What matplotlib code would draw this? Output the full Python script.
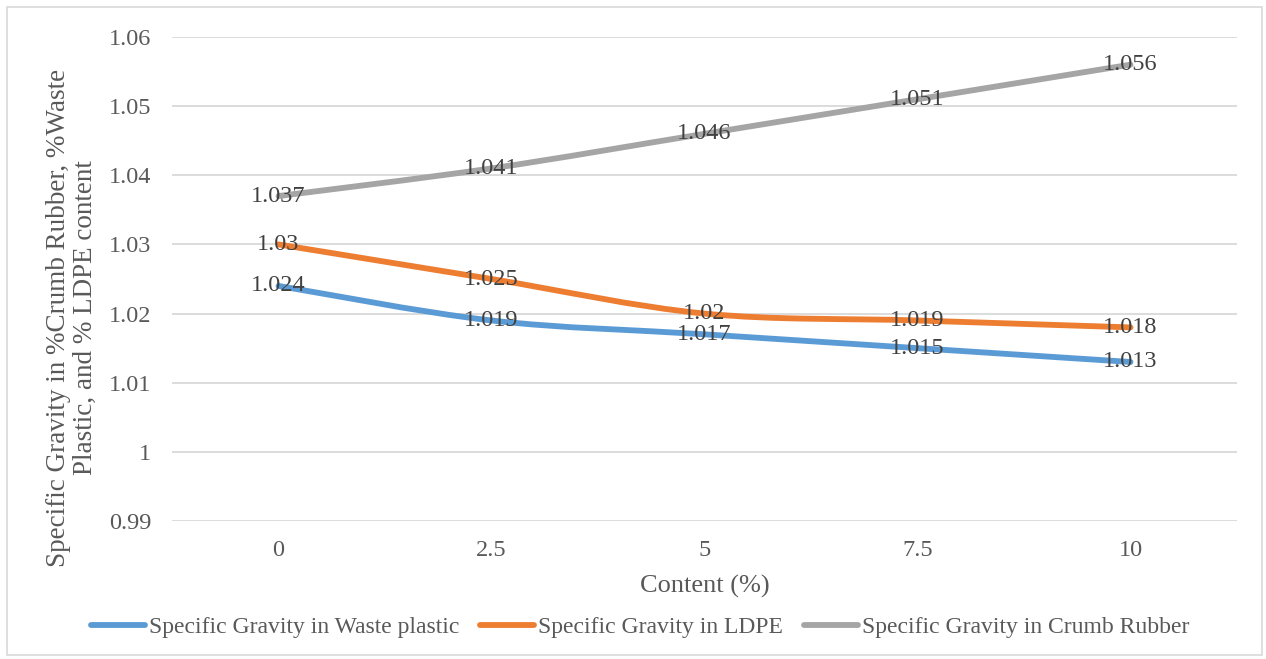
import matplotlib
matplotlib.use("Agg")
import matplotlib.pyplot as plt
from matplotlib.path import Path
from matplotlib.patches import PathPatch, Rectangle
from matplotlib.lines import Line2D
import numpy as np

plt.rcParams['font.family'] = ['Liberation Serif', 'DejaVu Serif']

categories = ["0", "2.5", "5", "7.5", "10"]
waste_plastic = [1.024, 1.019, 1.017, 1.015, 1.013]
ldpe = [1.030, 1.025, 1.020, 1.019, 1.018]
crumb_rubber = [1.037, 1.041, 1.046, 1.051, 1.056]
series_names = ["Specific Gravity in Waste plastic",
                "Specific Gravity in LDPE",
                "Specific Gravity in Crumb Rubber"]
yticks = [0.99, 1.00, 1.01, 1.02, 1.03, 1.04, 1.05, 1.06]
ytick_labels = ["0.99", "1", "1.01", "1.02", "1.03", "1.04", "1.05", "1.06"]
colors = ["#5B9BD5", "#ED7D31", "#A5A5A5"]

W, H = 1266, 659
fig = plt.figure(figsize=(W / 100, H / 100), dpi=100)
ax = fig.add_axes([172 / W, 1 - 521 / H, (1237 - 172) / W, (521 - 37) / H])

x = np.arange(len(categories))


def smooth_path(xs, ys):
    pts = np.column_stack([xs, ys]).astype(float)
    n = len(pts)
    verts = [pts[0]]
    codes = [Path.MOVETO]
    for i in range(n - 1):
        p0 = pts[i - 1] if i > 0 else pts[i]
        p1 = pts[i]
        p2 = pts[i + 1]
        p3 = pts[i + 2] if i + 2 < n else pts[i + 1]
        c1 = p1 + (p2 - p0) / 6.0
        c2 = p2 - (p3 - p1) / 6.0
        verts += [c1, c2, p2]
        codes += [Path.CURVE4] * 3
    return Path(verts, codes)


handles = []
for vals, col, name in zip([waste_plastic, ldpe, crumb_rubber], colors, series_names):
    patch = PathPatch(smooth_path(x, vals), fill=False, edgecolor=col, lw=4.2,
                      capstyle='round', joinstyle='round', zorder=3)
    ax.add_patch(patch)
    for xi, v in zip(x, vals):
        ax.text(xi, v, f"{v:g}", ha='center', va='center', fontsize=17.5,
                color='#404040', zorder=4)
    handles.append(Line2D([], [], color=col, lw=4.2, solid_capstyle='round', label=name))

ax.set_xlim(-0.5, len(categories) - 0.5)
ax.set_ylim(0.99, 1.06)
ax.set_yticks(yticks)
ax.set_yticklabels(ytick_labels)
ax.set_xticks(x)
ax.set_xticklabels(categories)
ax.tick_params(axis='both', length=0, labelsize=17.5, labelcolor='#595959')
ax.tick_params(axis='y', pad=15)
ax.tick_params(axis='x', pad=14)
ax.grid(axis='y', color='#D9D9D9', lw=1.3, zorder=0)
for s in ax.spines.values():
    s.set_visible(False)
ax.set_axisbelow(True)

ax.set_xlabel("Content (%)", fontsize=19, color='#595959', labelpad=10)

fig.text(72 / W, 1 - 318 / H,
         "Specific Gravity in %Crumb Rubber, %Waste\nPlastic, and % LDPE content",
         rotation=90, ha='center', va='center', fontsize=19.5, color='#595959',
         multialignment='center', linespacing=1.1)

fig.legend(handles=handles, loc='center', bbox_to_anchor=(640 / W, 1 - 627 / H),
           ncol=3, frameon=False, fontsize=17, handlelength=2.3,
           handletextpad=0.15, columnspacing=0.9, labelcolor='#595959')

fig.patches.append(Rectangle((7 / W, 4 / H), (1262 - 7) / W, (652 - 4) / H,
                             transform=fig.transFigure, fill=False,
                             edgecolor='#D9D9D9', lw=1.2))

fig.savefig("out.png", dpi=100)
